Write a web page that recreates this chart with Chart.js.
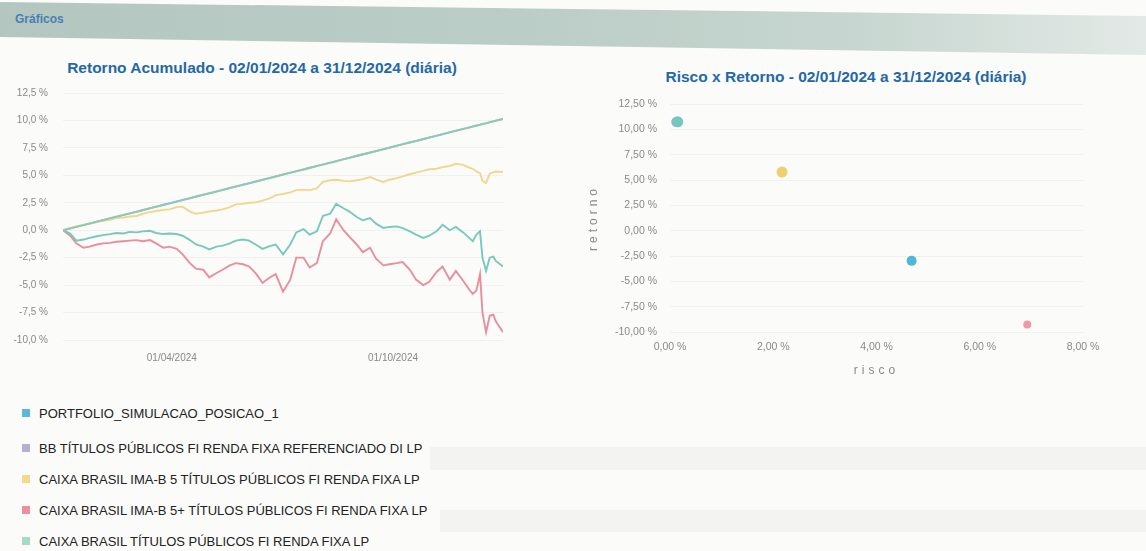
<!DOCTYPE html>
<html><head><meta charset="utf-8">
<script src="https://cdn.jsdelivr.net/npm/chart.js@4.4.1/dist/chart.umd.min.js"></script>
<style>
html,body{margin:0;padding:0;}
body{width:1146px;height:551px;overflow:hidden;background:#fbfbfa;position:relative;font-family:"Liberation Sans",Arial,sans-serif;}
#hdr{position:absolute;left:0;top:0;width:1146px;height:56px;background:linear-gradient(90deg,#b3c7c0 0%,#bacdc6 45%,#c7d6d0 75%,#e3e9e6 100%);clip-path:polygon(0 2px,1146px 16px,1146px 55px,0 37px);}
#hdrText{position:absolute;left:15px;top:12px;font-size:12px;font-weight:bold;color:#4a7fb2;}
.band{position:absolute;background:rgba(0,0,0,0.03);}
.ctitle{position:absolute;font-size:15.5px;font-weight:bold;color:#2468a6;white-space:nowrap;transform:translateX(-50%);}
#lineWrap{position:absolute;left:0;top:50px;}
#scatWrap{position:absolute;left:570px;top:55px;}
#legend{position:absolute;left:22px;top:406px;}
.li{display:flex;align-items:center;height:14px;margin-bottom:17px;font-size:13px;color:#222;white-space:nowrap;}
.li:first-child{margin-bottom:21px;}
.sw{width:8px;height:8px;margin-right:9px;flex:none;}
</style></head><body>
<div id="hdr"></div>
<div id="hdrText">Gráficos</div>
<div class="band" style="left:430px;top:447px;width:716px;height:23px;"></div>
<div class="band" style="left:440px;top:510px;width:706px;height:22px;"></div>
<div class="ctitle" style="left:262px;top:59px;">Retorno Acumulado - 02/01/2024 a 31/12/2024 (diária)</div>
<div class="ctitle" style="left:846px;top:68px;">Risco x Retorno - 02/01/2024 a 31/12/2024 (diária)</div>
<div id="lineWrap"><canvas id="lineChart" width="524" height="330"></canvas></div>
<div id="scatWrap"><canvas id="scatChart" width="560" height="335"></canvas></div>
<div id="legend"></div>
<script>
const seriesNames = [
  'PORTFOLIO_SIMULACAO_POSICAO_1',
  'BB TÍTULOS PÚBLICOS FI RENDA FIXA REFERENCIADO DI LP',
  'CAIXA BRASIL IMA-B 5 TÍTULOS PÚBLICOS FI RENDA FIXA LP',
  'CAIXA BRASIL IMA-B 5+ TÍTULOS PÚBLICOS FI RENDA FIXA LP',
  'CAIXA BRASIL TÍTULOS PÚBLICOS FI RENDA FIXA LP'
];

// days since 02/01/2024
const daysSinceStart = [0,6,11,17,22,28,33,39,44,50,
  55,61,66,72,77,83,88,94,99,105,
  110,116,121,127,132,138,143,149,154,160,
  165,171,176,182,188,193,199,204,210,215,
  221,226,232,237,243,248,254,259,265,270,
  276,281,287,292,298,303,309,314,320,325,
  331,336,339,342,345,347,350,353,356,358,
  364];

const portfolioReturn = [0,-0.3,-0.95,-0.85,-0.7,-0.55,-0.45,-0.35,-0.25,-0.3,
  -0.15,-0.2,-0.1,-0.05,-0.25,-0.35,-0.3,-0.35,-0.5,-0.9,
  -1.3,-1.5,-1.75,-1.5,-1.4,-1.2,-0.95,-0.85,-0.95,-1.35,
  -1.7,-1.45,-1.3,-2.2,-1.3,-0.2,0.1,-0.4,-0.1,1.3,
  1.5,2.4,2.0,1.7,1.2,0.9,1.1,0.6,0.2,0.3,
  0.35,0.2,-0.1,-0.4,-0.7,-0.5,-0.1,0.5,0.0,0.3,
  -0.2,-0.7,-1.0,-0.4,-0.1,-2.5,-3.7,-2.5,-2.4,-2.8,
  -3.3];

const bbDiReturn = [0,0.16,0.30,0.46,0.60,0.77,0.91,1.08,1.21,1.38,
  1.51,1.68,1.82,1.99,2.13,2.30,2.43,2.60,2.74,2.91,
  3.05,3.22,3.35,3.52,3.66,3.83,3.97,4.14,4.27,4.44,
  4.58,4.75,4.89,5.06,5.22,5.36,5.53,5.67,5.84,5.98,
  6.14,6.28,6.45,6.59,6.76,6.90,7.06,7.20,7.37,7.51,
  7.68,7.82,7.99,8.12,8.29,8.43,8.60,8.74,8.91,9.05,
  9.21,9.35,9.44,9.52,9.60,9.66,9.74,9.83,9.91,9.97,
  10.13];

const imab5Return = [0,0.2,0.35,0.5,0.6,0.75,0.85,0.95,1.1,1.15,
  1.25,1.3,1.5,1.65,1.75,1.85,1.9,2.1,2.15,1.7,
  1.5,1.6,1.7,1.8,1.9,2.1,2.35,2.4,2.5,2.55,
  2.7,2.9,3.2,3.3,3.45,3.65,3.7,3.65,3.8,4.4,
  4.55,4.6,4.5,4.45,4.55,4.65,4.85,4.6,4.4,4.6,
  4.75,4.9,5.1,5.25,5.4,5.55,5.6,5.75,5.85,6.05,
  5.95,5.7,5.6,5.35,5.2,4.5,4.3,5.15,5.3,5.35,
  5.3];

const imab5PlusReturn = [0,-0.5,-1.2,-1.6,-1.5,-1.3,-1.2,-1.15,-1.05,-1.0,
  -0.95,-0.9,-1.0,-0.9,-1.2,-1.6,-1.5,-1.7,-2.2,-3.0,
  -3.5,-3.6,-4.3,-3.9,-3.6,-3.2,-3.0,-3.1,-3.3,-4.0,
  -4.8,-4.3,-4.0,-5.6,-4.5,-2.5,-2.5,-3.4,-3.0,-1.0,
  -0.3,1.0,0.0,-0.6,-1.3,-2.0,-1.6,-2.6,-3.2,-3.1,
  -3.0,-2.9,-3.6,-4.5,-5.0,-4.7,-3.8,-3.3,-4.5,-3.7,
  -4.6,-5.4,-5.8,-5.5,-4.0,-7.5,-9.3,-7.8,-7.7,-8.3,
  -9.3];

const caixaTpReturn = [0,0.17,0.31,0.47,0.61,0.78,0.92,1.09,1.23,1.40,
  1.53,1.70,1.84,2.01,2.15,2.32,2.45,2.62,2.76,2.93,
  3.07,3.24,3.37,3.54,3.68,3.85,3.99,4.16,4.29,4.46,
  4.60,4.77,4.91,5.08,5.24,5.38,5.55,5.69,5.86,6.00,
  6.16,6.30,6.47,6.61,6.78,6.92,7.08,7.22,7.39,7.53,
  7.70,7.84,8.01,8.14,8.31,8.45,8.62,8.76,8.93,9.07,
  9.23,9.37,9.46,9.54,9.62,9.68,9.76,9.85,9.93,9.99,
  10.15];

const lineXTickDays = [90, 273];
const lineXTickLabels = ['01/04/2024', '01/10/2024'];
const lineYTicks = [-10, -7.5, -5, -2.5, 0, 2.5, 5, 7.5, 10, 12.5];

// risk x return (annual, %)
const riskValues = [4.68, 0.12, 2.17, 6.92, 0.15];
const returnValues = [-2.98, 10.72, 5.78, -9.26, 10.74];
const scatterXTicks = [0, 2, 4, 6, 8];
const scatterYTicks = [-10, -7.5, -5, -2.5, 0, 2.5, 5, 7.5, 10, 12.5];

// styles
const legendColors = ['#58b9d9', '#b3b0d4', '#f5d88c', '#ee8fa1', '#a6dcc6'];
const lineColors = ['#78c8bb', '#b6b0d8', '#f1d68c', '#e98e9d', '#8ccab3'];
const pointColors = ['#4fb7d9', '#a9a6d6', '#efd070', '#ef9aa2', '#72c7bf'];
const drawOrder = [1, 4, 2, 3, 0];
const pointSizes = [5, 5, 5.5, 4, 5.5];

const FONT = '"Liberation Sans", Arial, sans-serif';
const TICK_COLOR = '#8a8a8a';
const fmt = (d) => (v) => v.toFixed(d).replace('.', ',') + ' %';

function spacedTitle(scale) {
  if (scale._spaced) return;
  const orig = scale.drawTitle;
  scale.drawTitle = function () {
    this.ctx.save();
    this.ctx.letterSpacing = '4px';
    orig.call(this);
    this.ctx.restore();
  };
  scale._spaced = true;
}

// legend
const legendEl = document.getElementById('legend');
seriesNames.forEach((n, i) => {
  const row = document.createElement('div');
  row.className = 'li';
  const sw = document.createElement('span');
  sw.className = 'sw';
  sw.style.background = legendColors[i];
  const tx = document.createElement('span');
  tx.textContent = n;
  row.appendChild(sw); row.appendChild(tx);
  legendEl.appendChild(row);
});

const lineValues = [portfolioReturn, bbDiReturn, imab5Return, imab5PlusReturn, caixaTpReturn];

new Chart(document.getElementById('lineChart'), {
  type: 'line',
  data: {
    datasets: lineValues.map((vals, i) => ({
      label: seriesNames[i],
      data: daysSinceStart.map((d, k) => ({ x: d, y: vals[k] })),
      borderColor: lineColors[i],
      backgroundColor: lineColors[i],
      borderWidth: 1.9,
      pointRadius: 0,
      tension: 0,
      order: drawOrder[i]
    }))
  },
  options: {
    responsive: false,
    animation: false,
    devicePixelRatio: 1,
    layout: { padding: { left: 0, right: 21, top: 43, bottom: 14 } },
    plugins: {
      legend: { display: false },
      tooltip: { enabled: false },
      title: { display: false }
    },
    scales: {
      x: {
        type: 'linear',
        min: 0,
        max: 364,
        afterBuildTicks: (s) => { s.ticks = lineXTickDays.map(v => ({ value: v })); },
        afterFit: (s) => { s.height = 26; },
        ticks: {
          autoSkip: false, maxRotation: 0, padding: 12,
          color: TICK_COLOR, font: { family: FONT, size: 10 },
          callback: (v, i) => lineXTickLabels[i]
        },
        grid: { display: false, drawTicks: false },
        border: { display: false }
      },
      y: {
        min: -10,
        max: 12.5,
        afterBuildTicks: (s) => { s.ticks = lineYTicks.map(v => ({ value: v })); },
        afterFit: (s) => { s.width = 63; },
        ticks: {
          padding: 15, color: TICK_COLOR, font: { family: FONT, size: 10 },
          callback: fmt(1)
        },
        grid: { color: '#f0f0f0', drawTicks: false },
        border: { display: false }
      }
    }
  }
});

new Chart(document.getElementById('scatChart'), {
  type: 'scatter',
  data: {
    datasets: seriesNames.map((n, i) => ({
      label: n,
      data: [{ x: riskValues[i], y: returnValues[i] }],
      pointBackgroundColor: pointColors[i],
      pointBorderWidth: 0,
      pointRadius: pointSizes[i],
      order: drawOrder[i]
    }))
  },
  options: {
    responsive: false,
    animation: false,
    devicePixelRatio: 1,
    layout: { padding: { left: 0, right: 47, top: 49, bottom: 8 } },
    plugins: {
      legend: { display: false },
      tooltip: { enabled: false },
      title: { display: false }
    },
    scales: {
      x: {
        type: 'linear',
        min: 0,
        max: 8,
        afterBuildTicks: (s) => { s.ticks = scatterXTicks.map(v => ({ value: v })); },
        afterFit: (s) => { s.height = 50; spacedTitle(s); },
        ticks: { padding: 9, color: TICK_COLOR, font: { family: FONT, size: 10.5 }, callback: fmt(2) },
        title: { display: true, text: 'risco', color: '#8a8a8a', font: { family: FONT, size: 12 }, padding: { top: 0, bottom: 4 } },
        grid: { display: false, drawTicks: false },
        border: { display: false }
      },
      y: {
        min: -10,
        max: 12.5,
        afterBuildTicks: (s) => { s.ticks = scatterYTicks.map(v => ({ value: v })); },
        afterFit: (s) => { s.width = 100; spacedTitle(s); },
        ticks: { padding: 13, color: TICK_COLOR, font: { family: FONT, size: 10.5 }, callback: fmt(2) },
        title: { display: true, text: 'retorno', color: '#8a8a8a', font: { family: FONT, size: 12 }, padding: { top: 16, bottom: 0 } },
        grid: { color: '#f0f0f0', drawTicks: false },
        border: { display: false }
      }
    }
  }
});
</script>
</body></html>
